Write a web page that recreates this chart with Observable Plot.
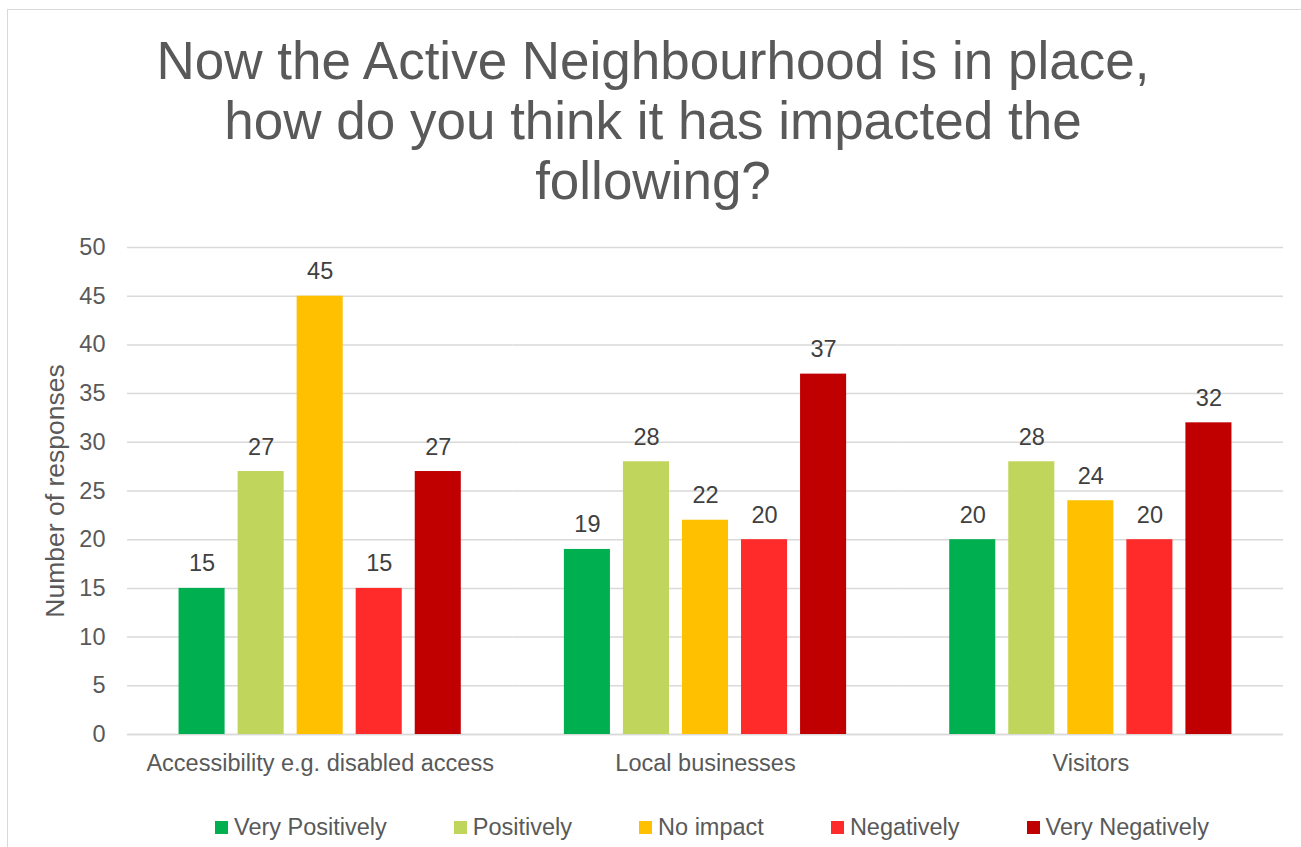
<!DOCTYPE html>
<html>
<head>
<meta charset="utf-8">
<script src="https://cdn.jsdelivr.net/npm/d3@7"></script>
<script src="https://cdn.jsdelivr.net/npm/@observablehq/plot@0.6"></script>
<style>
  html, body { margin: 0; padding: 0; background: #fff; overflow: hidden; width: 1301px; height: 847px; }
  body { position: relative; font-family: "Liberation Sans", Arial, sans-serif; color: #595959; }
  #frame { position: absolute; left: 7px; top: 9px; width: 1330px; height: 900px; border: 1.5px solid #d9d9d9; box-sizing: border-box; }
  #title { position: absolute; left: 0; top: 31px; width: 1306px; text-align: center; font-size: 53px; line-height: 60px; color: #595959; }
  #chart { position: absolute; left: 0; top: 220px; }
  #chart g[aria-label="y-axis label"] text, #chart g[aria-label="y-axis label"] { font-size: 26.5px; }
  #legend { position: absolute; left: 215px; top: 814px; display: flex; align-items: center; gap: 67px; font-size: 23.5px; color: #595959; white-space: nowrap; }
  .item { display: flex; align-items: center; }
  .sw { width: 13px; height: 13px; margin-right: 6px; display: inline-block; }
</style>
</head>
<body>
<div id="frame"></div>
<div id="title">Now the Active Neighbourhood is in place,<br>how do you think it has impacted the<br>following?</div>
<div id="chart"></div>
<div id="legend"></div>
<script>
const categories = ["Accessibility e.g. disabled access", "Local businesses", "Visitors"];
const responses = ["Very Positively", "Positively", "No impact", "Negatively", "Very Negatively"];
const accessibility = [15, 27, 45, 15, 27];
const localBusinesses = [19, 28, 22, 20, 37];
const visitors = [20, 28, 24, 20, 32];
const colors = ["#00B050", "#BFD55C", "#FFC000", "#FF2A2A", "#C00000"];
const yTicks = [0, 5, 10, 15, 20, 25, 30, 35, 40, 45, 50];

const series = [accessibility, localBusinesses, visitors];
const data = [];
categories.forEach((c, i) => {
  responses.forEach((r, j) => data.push({category: c, response: r, value: series[i][j]}));
});

const chart = Plot.plot({
  width: 1301,
  height: 574,
  marginLeft: 127,
  marginRight: 18,
  marginTop: 27,
  marginBottom: 60,
  style: {fontFamily: "'Liberation Sans', Arial, sans-serif", color: "#595959", background: "transparent"},
  fx: {domain: categories, padding: 0, label: null, round: false},
  x: {domain: responses, axis: null, paddingInner: 0.22, paddingOuter: 0.873, round: false},
  y: {domain: [0, 50]},
  color: {domain: responses, range: colors},
  marks: [
    Plot.gridY(yTicks, {stroke: "#d9d9d9", strokeOpacity: 1, strokeWidth: 1.5}),
    Plot.ruleY([0], {stroke: "#d9d9d9", strokeWidth: 1.5}),
    Plot.barY(data, {fx: "category", x: "response", y: "value", fill: "response"}),
    Plot.text(data, {fx: "category", x: "response", y: "value", text: d => String(d.value), dy: -17, lineAnchor: "bottom", fill: "#404040", fontSize: 23.5}),
    Plot.axisY(yTicks, {tickSize: 0, tickPadding: 22, fontSize: 23.5, fill: "#595959", label: "Number of responses", labelArrow: "none", labelAnchor: "center", labelOffset: 82}),
    Plot.axisFx({anchor: "bottom", tickSize: 0, tickPadding: 20, fontSize: 23.5, fill: "#595959", label: null})
  ]
});
document.getElementById("chart").appendChild(chart);

const legend = document.getElementById("legend");
responses.forEach((r, i) => {
  const item = document.createElement("div");
  item.className = "item";
  const sw = document.createElement("span");
  sw.className = "sw";
  sw.style.background = colors[i];
  const t = document.createElement("span");
  t.textContent = r;
  item.appendChild(sw);
  item.appendChild(t);
  legend.appendChild(item);
});
</script>
</body>
</html>
